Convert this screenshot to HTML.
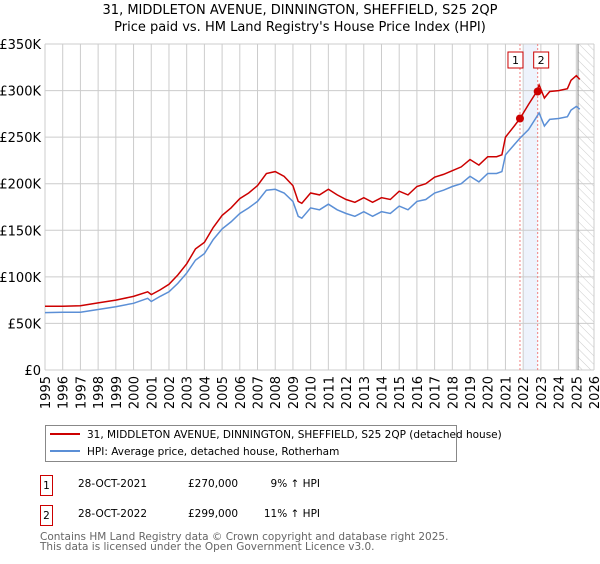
<!DOCTYPE html>
<html><head><meta charset="utf-8"><style>
body{margin:0;background:#fff;font-family:"DejaVu Sans","Liberation Sans",sans-serif;}
svg text{font-family:"DejaVu Sans","Liberation Sans",sans-serif;}
</style></head><body>
<svg id="chart" width="600" height="560" xmlns="http://www.w3.org/2000/svg">
<defs><pattern id="hatch" patternUnits="userSpaceOnUse" width="6" height="6" patternTransform="rotate(-45)"><line x1="0" y1="0" x2="0" y2="6" stroke="#ccc" stroke-width="1"/></pattern></defs>
<text x="300" y="14" text-anchor="middle" font-size="13">31, MIDDLETON AVENUE, DINNINGTON, SHEFFIELD, S25 2QP</text>
<text x="300" y="31" text-anchor="middle" font-size="13">Price paid vs. HM Land Registry's House Price Index (HPI)</text>
<g id="grid"></g><g id="marks"></g><g id="axes"></g>
<rect x="45.5" y="425.5" width="411" height="36" fill="#fff" stroke="#888"/>
<line x1="50" y1="434" x2="80" y2="434" stroke="#cc0000" stroke-width="2"/>
<text x="87" y="438" font-size="10.5">31, MIDDLETON AVENUE, DINNINGTON, SHEFFIELD, S25 2QP (detached house)</text>
<line x1="50" y1="451" x2="80" y2="451" stroke="#5b8fd6" stroke-width="2"/>
<text x="87" y="455" font-size="10.5">HPI: Average price, detached house, Rotherham</text>
<g font-size="10.5">
<rect x="40.5" y="475.5" width="12" height="20" fill="#fff" stroke="#cc0000"/><text x="46.5" y="489" text-anchor="middle">1</text>
<text x="78" y="487">28-OCT-2021</text><text x="188" y="487">£270,000</text><text x="320" y="487" text-anchor="end">9% ↑ HPI</text></g>
<g font-size="10.5">
<rect x="40.5" y="505.5" width="12" height="20" fill="#fff" stroke="#cc0000"/><text x="46.5" y="519" text-anchor="middle">2</text>
<text x="78" y="517">28-OCT-2022</text><text x="188" y="517">£299,000</text><text x="320" y="517" text-anchor="end">11% ↑ HPI</text></g>
<text x="40" y="540" font-size="10.5" fill="#666">Contains HM Land Registry data © Crown copyright and database right 2025.</text>
<text x="40" y="550" font-size="10.5" fill="#666">This data is licensed under the Open Government Licence v3.0.</text>
</svg>
<script>
const hpiYears=[1995,1996,1997,1998,1999,2000,2000.8,2001,2001.5,2002,2002.5,2003,2003.5,2004,2004.5,2005,2005.5,2006,2006.5,2007,2007.5,2008,2008.5,2009,2009.3,2009.5,2010,2010.5,2011,2011.5,2012,2012.5,2013,2013.5,2014,2014.5,2015,2015.5,2016,2016.5,2017,2017.5,2018,2018.5,2019,2019.5,2020,2020.5,2020.8,2021,2021.5,2021.82,2022.3,2022.7,2022.9,2023.2,2023.5,2024,2024.5,2024.7,2025,2025.2];
const hpiValues=[61.6,62,62,65,68,71.6,77,73.5,79,84,93,104,118,125,140,151.5,159,168,174,181,193,194,190,181,165,163,174,172,178,172,168,165,170,165,170,168,176,172,181,183,190,193,197,200,208,202,211,211,213,231,242,249,258,270,276,262,269,270,272,279,283,280];
const propYears=hpiYears;
const propValues=[68.5,68.5,69,72,75,79,84,81,86,92,102,114,130,137,153,166,174,184,190,198,211,213,208,198,181,179,190,188,194,188,183,180,185,180,185,183,192,188,197,200,207,210,214,218,226,220,229,229,231,250,262,270,285,297,306,292,299,300,302,311,316,312];
const saleYears=[2021.82,2022.82];
const saleValues=[270,299];
const saleLabels=["1","2"];
const yTicks=[0,50,100,150,200,250,300,350];
const yTickLabels=["£0","£50K","£100K","£150K","£200K","£250K","£300K","£350K"];
const xTicks=[1995,1996,1997,1998,1999,2000,2001,2002,2003,2004,2005,2006,2007,2008,2009,2010,2011,2012,2013,2014,2015,2016,2017,2018,2019,2020,2021,2022,2023,2024,2025,2026];

const L=45,R=594,T=44,B=370;
const x=v=>L+(v-1995)/(2026-1995)*(R-L);
const y=v=>B-v/350*(B-T);
const NS="http://www.w3.org/2000/svg";
function mk(tag,attrs,parent,txt){const e=document.createElementNS(NS,tag);for(const k in attrs)e.setAttribute(k,attrs[k]);if(txt!==undefined)e.textContent=txt;parent.appendChild(e);return e;}
const grid=document.getElementById('grid'),marks=document.getElementById('marks'),axes=document.getElementById('axes');
let sh=mk('rect',{x:x(2022.0),y:T,width:x(saleYears[1])-x(2022.0),height:B-T,fill:'#eef3fc'},grid);


let ht=mk('rect',{x:x(2025.1),y:T,width:R-x(2025.1),height:B-T,fill:'url(#hatch)'},grid);


yTicks.forEach((t,i)=>{
  let g=mk('line',{x1:L,x2:R,y1:y(t),y2:y(t),stroke:'#ccc','stroke-width':1},grid);
  
  
  let lb=mk('text',{x:L-4,y:y(t)+5,'text-anchor':'end','font-size':13},axes,yTickLabels[i]);
  
  
});
xTicks.forEach(t=>{
  let g=mk('line',{x1:x(t),x2:x(t),y1:T,y2:B,stroke:'#ccc','stroke-width':1},grid);
  
  
  let lb=mk('text',{x:0,y:0,'text-anchor':'end','font-size':13,transform:`translate(${x(t)+5},${B+6}) rotate(-90)`},axes,String(t));
  
  
});
let nl=mk('line',{x1:x(2025.1),x2:x(2025.1),y1:T,y2:B,stroke:'#888','stroke-width':1},grid);


saleYears.forEach((s,i)=>{
  let v=mk('line',{x1:x(s),x2:x(s),y1:T,y2:B,stroke:'#f08080','stroke-width':1,'stroke-dasharray':'2,2'},grid);
  
  
});
const path=(xs,vs)=>xs.map((d,i)=>(i?'L':'M')+x(d).toFixed(1)+','+y(vs[i]).toFixed(1)).join('');
let hp=mk('path',{d:path(hpiYears,hpiValues),fill:'none',stroke:'#5b8fd6','stroke-width':1.5},marks);


let pp=mk('path',{d:path(propYears,propValues),fill:'none',stroke:'#cc0000','stroke-width':1.5},marks);


saleYears.forEach((s,i)=>{
  let c=mk('circle',{cx:x(s),cy:y(saleValues[i]),r:4,fill:'#cc0000'},marks);
  
  
  const bx=i===0?x(s)-12:x(s)-4;
  let r=mk('rect',{x:bx,y:52,width:15,height:16,fill:'#fff',stroke:'#cc0000'},marks);
  
  
  let t=mk('text',{x:bx+7.5,y:64,'text-anchor':'middle','font-size':11},marks,saleLabels[i]);
  
  
});
</script>
</body></html>
